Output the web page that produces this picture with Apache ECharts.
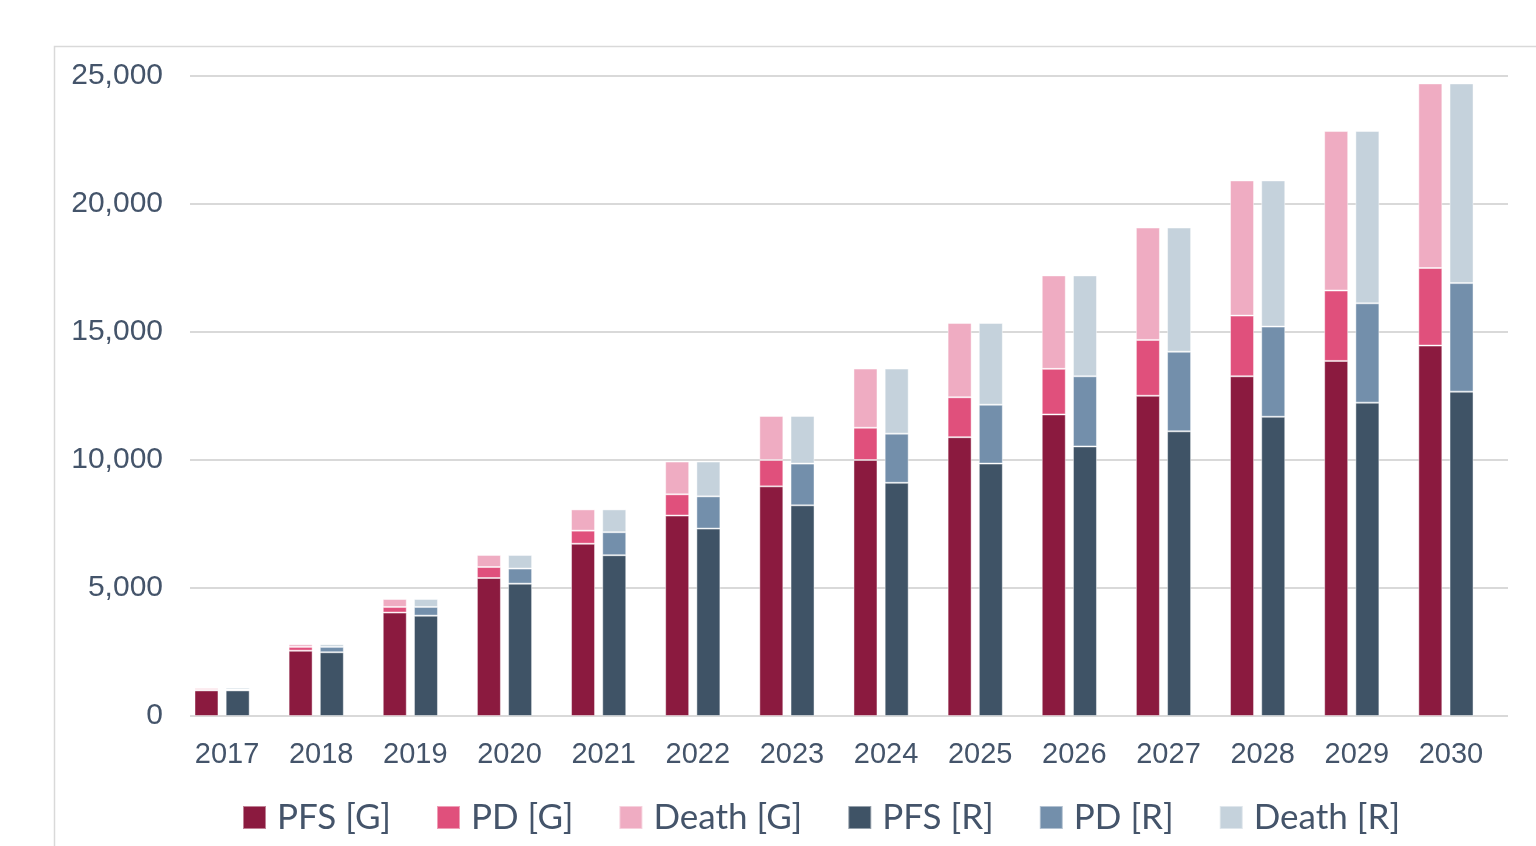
<!DOCTYPE html>
<html>
<head>
<meta charset="utf-8">
<script src="https://cdn.jsdelivr.net/npm/echarts@6/dist/echarts.min.js"></script>
<style>
html,body{margin:0;padding:0;background:#fff;}
#chart{width:1536px;height:846px;}
</style>
</head>
<body>
<div id="chart"></div>
<script>
const years = ['2017','2018','2019','2020','2021','2022','2023','2024','2025','2026','2027','2028','2029','2030'];
const pfsG   = [1000,2550,4040,5390,6730,7830,8970,10000,10890,11780,12510,13270,13870,14470];
const pdG    = [50,150,220,430,510,830,1030,1260,1560,1780,2180,2370,2750,3030];
const deathG = [60,100,310,470,830,1280,1720,2310,2900,3650,4390,5280,6230,7210];
const pfsR   = [1000,2490,3920,5170,6280,7320,8230,9110,9860,10530,11120,11690,12240,12670];
const pdR    = [40,210,340,590,900,1260,1630,1920,2300,2740,3110,3520,3880,4240];
const deathR = [70,100,310,530,890,1360,1860,2540,3190,3940,4850,5710,6730,7800];
const yTicks = [0,5000,10000,15000,20000,25000];

const colors = {
  pfsG:'#8B1A3F', pdG:'#E0507C', deathG:'#EFACC2',
  pfsR:'#3F5366', pdR:'#738FAB', deathR:'#C5D2DC'
};
const textColor = '#44546A';

const chart = echarts.init(document.getElementById('chart'));
function bar(name, data, stack, color){
  return {
    name, type:'bar', stack, data, xAxisIndex:1, yAxisIndex:1,
    barWidth:24, barGap:'30%',
    itemStyle:{color, borderColor:'rgba(255,255,255,0.45)', borderWidth:1},
    emphasis:{disabled:true}
  };
}
chart.setOption({
  animation:false,
  graphic:[{type:'rect', shape:{x:54.5,y:46.5,width:1600,height:900}, style:{fill:'none', stroke:'#d9d9d9', lineWidth:1.5}, silent:true, z:-1}],
  grid:[
    {left:190, right:28, top:76, bottom:130},
    {left:175, right:43, top:76, bottom:130}
  ],
  xAxis:[
    {gridIndex:0, type:'value', show:false, min:0, max:1},
    {gridIndex:1, type:'category', data:years,
     axisLine:{show:false}, axisTick:{show:false},
     axisLabel:{color:textColor, fontSize:29, fontFamily:'Liberation Sans, Arial, sans-serif', margin:24, padding:[0,0,0,10]}}
  ],
  yAxis:[
    {gridIndex:0, type:'value', min:0, max:25000, interval:5000,
     axisLine:{show:false}, axisTick:{show:false},
     splitLine:{lineStyle:{color:'#d9d9d9', width:2}},
     axisLabel:{color:textColor, fontSize:30, fontFamily:'Liberation Sans, Arial, sans-serif', margin:27,
       formatter:v => yTicks.includes(v) ? v.toLocaleString('en-US') : ''}},
    {gridIndex:1, type:'value', min:0, max:25000, interval:5000, show:false, splitLine:{show:false}}
  ],
  legend:{
    left:237, top:795, itemWidth:23, itemHeight:23, itemGap:45,
    icon:'rect',
    textStyle:{color:textColor, fontSize:35, fontFamily:'Lato, sans-serif', padding:[0,0,0,6]},
    data:['PFS [G]','PD [G]','Death [G]','PFS [R]','PD [R]','Death [R]']
  },
  series:[
    bar('PFS [G]', pfsG, 'G', colors.pfsG),
    bar('PD [G]', pdG, 'G', colors.pdG),
    bar('Death [G]', deathG, 'G', colors.deathG),
    bar('PFS [R]', pfsR, 'R', colors.pfsR),
    bar('PD [R]', pdR, 'R', colors.pdR),
    bar('Death [R]', deathR, 'R', colors.deathR)
  ]
});
</script>
</body>
</html>
